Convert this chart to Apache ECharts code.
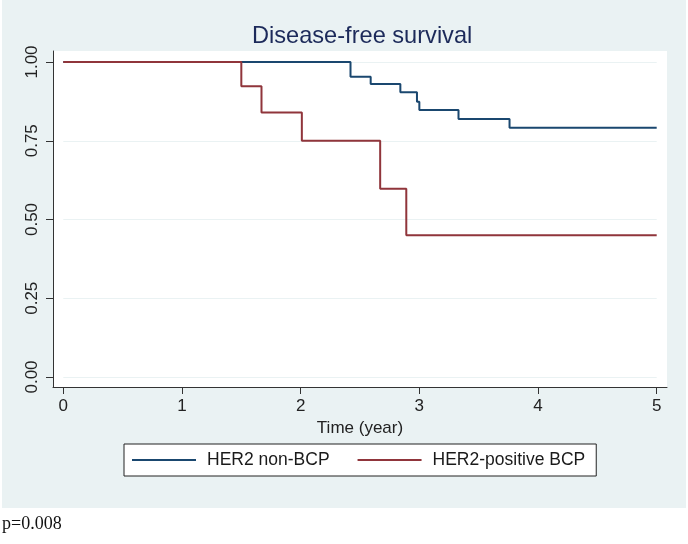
<!DOCTYPE html>
<html>
<head>
<meta charset="utf-8">
<script src="https://cdn.jsdelivr.net/npm/echarts@6/dist/echarts.min.js"></script>
<style>
  html, body { margin: 0; padding: 0; background: #fff; }
  #bg { position: absolute; left: 2px; top: 0; width: 684px; height: 508px; background: #eaf2f3; }
  #chart { position: absolute; left: 0; top: 0; width: 688px; height: 544px; }
</style>
</head>
<body>
<div id="bg"></div>
<div id="chart"></div>
<script>
// Kaplan-Meier steps
var blueName = "HER2 non-BCP";
var blueTimes = [0, 2.42, 2.59, 2.84, 2.98, 3.0, 3.33, 3.76, 5];
var blueSurv = [1, 0.953, 0.93, 0.904, 0.874, 0.848, 0.819, 0.791, 0.791];

var redName = "HER2-positive BCP";
var redTimes = [0, 1.5, 1.67, 2.01, 2.67, 2.89, 5];
var redSurv = [1, 0.923, 0.84, 0.75, 0.598, 0.45, 0.45];

var xTicks = [0, 1, 2, 3, 4, 5];
var yTicks = [0, 0.25, 0.5, 0.75, 1];

function pairs(t, s) {
  return t.map(function (v, i) { return [v, s[i]]; });
}

var font = "'Liberation Sans', Arial, sans-serif";
var myChart = echarts.init(document.getElementById("chart"));

var option = {
  backgroundColor: "transparent",
  animation: false,
  title: {
    text: "Disease-free survival",
    left: 247,
    top: 19,
    textStyle: { fontFamily: font, fontSize: 23.6, fontWeight: "normal", color: "#1c2a5a" },
  },
  legend: {
    data: [blueName, redName],
    left: 124,
    top: 444,
    icon: "rect",
    itemWidth: 64,
    itemHeight: 2,
    itemGap: 28,
    padding: [7, 11, 7, 8],
    backgroundColor: "#fff",
    borderColor: "#222",
    borderWidth: 1,
    borderRadius: 0,
    textStyle: { fontFamily: font, fontSize: 17.5, color: "#1a1a1a", padding: [0, 0, 0, 6] },
  },
  grid: [
    // plot region (white box with the two axis lines)
    { left: 53, right: 21, top: 51, bottom: 157, show: true, backgroundColor: "#fff", borderWidth: 0 },
    // data area
    { left: 63.3, right: 31.3, top: 62, bottom: 167 },
  ],
  xAxis: [
    {
      gridIndex: 0, type: "value", min: 0, max: 1,
      axisLine: { show: true, onZero: false, lineStyle: { color: "#333", width: 1 } },
      axisTick: { show: false }, axisLabel: { show: false }, splitLine: { show: false },
    },
    {
      gridIndex: 1, type: "value", min: 0, max: 5, interval: 1, offset: 10,
      axisLine: { show: false, onZero: false },
      axisTick: { show: true, length: 7, lineStyle: { color: "#333", width: 1 } },
      axisLabel: { margin: 11, fontFamily: font, fontSize: 17, color: "#222" },
      splitLine: { show: false },
      name: "Time (year)",
      nameLocation: "middle",
      nameGap: 27,
      nameTextStyle: { fontFamily: font, fontSize: 17, color: "#222" },
    },
  ],
  yAxis: [
    {
      gridIndex: 0, type: "value", min: 0, max: 1,
      axisLine: { show: true, onZero: false, lineStyle: { color: "#333", width: 1 } },
      axisTick: { show: false }, axisLabel: { show: false }, splitLine: { show: false },
    },
    {
      gridIndex: 1, type: "value", min: 0, max: 1, interval: 0.25, offset: 10.3,
      axisLine: { show: false, onZero: false },
      axisTick: { show: true, length: 7, lineStyle: { color: "#333", width: 1 } },
      axisLabel: {
        rotate: 90, margin: 12, fontFamily: font, fontSize: 17, color: "#222",
        formatter: function (v) { return v.toFixed(2); },
      },
      splitLine: { show: true, lineStyle: { color: "#eaf2f3", width: 1 } },
    },
  ],
  series: [
    {
      name: blueName, type: "line", xAxisIndex: 1, yAxisIndex: 1,
      step: "end", symbol: "none", color: "#1a476f",
      lineStyle: { width: 2, color: "#1a476f" },
      data: pairs(blueTimes, blueSurv),
    },
    {
      name: redName, type: "line", xAxisIndex: 1, yAxisIndex: 1,
      step: "end", symbol: "none", color: "#90353b",
      lineStyle: { width: 2, color: "#90353b" },
      data: pairs(redTimes, redSurv),
    },
  ],
  graphic: [
    {
      type: "text", left: 2, top: 515,
      style: { text: "p=0.008", font: "18px 'Liberation Serif', 'Times New Roman', serif", fill: "#111" },
    },
  ],
};

myChart.setOption(option);
</script>
</body>
</html>
